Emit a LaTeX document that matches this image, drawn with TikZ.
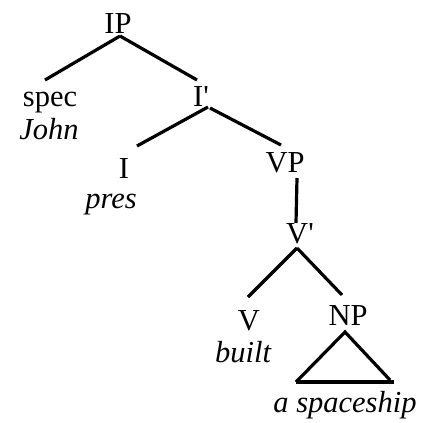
\documentclass[tikz,border=0pt]{standalone}
\usepackage{fontspec}
\setmainfont{Liberation Serif}
\usetikzlibrary{calc}
\begin{document}
\begin{tikzpicture}[x=1pt,y=-1pt,
  lab/.style={anchor=base,inner sep=0pt,font=\fontsize{30.5}{31}\selectfont},
  wrd/.style={lab,font=\fontsize{30.5}{31}\selectfont\itshape},
  br/.style={line width=3.2pt}]
\useasboundingbox (0,0) rectangle (422,423);
\node[lab] (IP) at (118,33) {IP};
\node[lab] (spec) at (50,106) {spec};
\node[wrd] (john) at (49,139) {John};
\node[lab] (Ib) at (201,106) {I\textquotesingle};
\node[lab] (I) at (124,178) {I};
\node[wrd] (pres) at (111,208) {pres};
\node[lab] (VP) at (285,172) {VP};
\node[lab] (Vb) at (300,243) {V\textquotesingle};
\node[lab] (V) at (249,330) {V};
\node[wrd] (built) at (243,362) {built};
\node[lab] (NP) at (348,325) {NP};
\node[wrd] (ship) at (345,412) {a spaceship};
\draw[br] ($(IP.base)+(2,3)$) -- ($(spec.base)+(-5,-26)$);
\draw[br] ($(IP.base)+(2,3)$) -- ($(Ib.base)+(-4,-26)$);
\draw[br] ($(Ib.base)+(7,1)$) -- ($(I.base)+(13,-32)$);
\draw[br] ($(Ib.base)+(9,2)$) -- ($(VP.base)+(-4,-27)$);
\draw[br] ($(VP.base)+(12,6)$) -- ($(Vb.base)+(-4,-20)$);
\draw[br] ($(Vb.base)+(-3,5)$) -- ($(V.base)+(-1,-33)$);
\draw[br] ($(Vb.base)+(-3,5)$) -- ($(NP.base)+(-6,-30)$);
\draw[br] ($(NP.base)+(-52,57)$) -- ($(NP.base)+(-3,7)$) -- ($(NP.base)+(42,55)$);
\draw[br] ($(NP.base)+(-52,57)$) -- ($(NP.base)+(46,57)$);
\end{tikzpicture}
\end{document}
